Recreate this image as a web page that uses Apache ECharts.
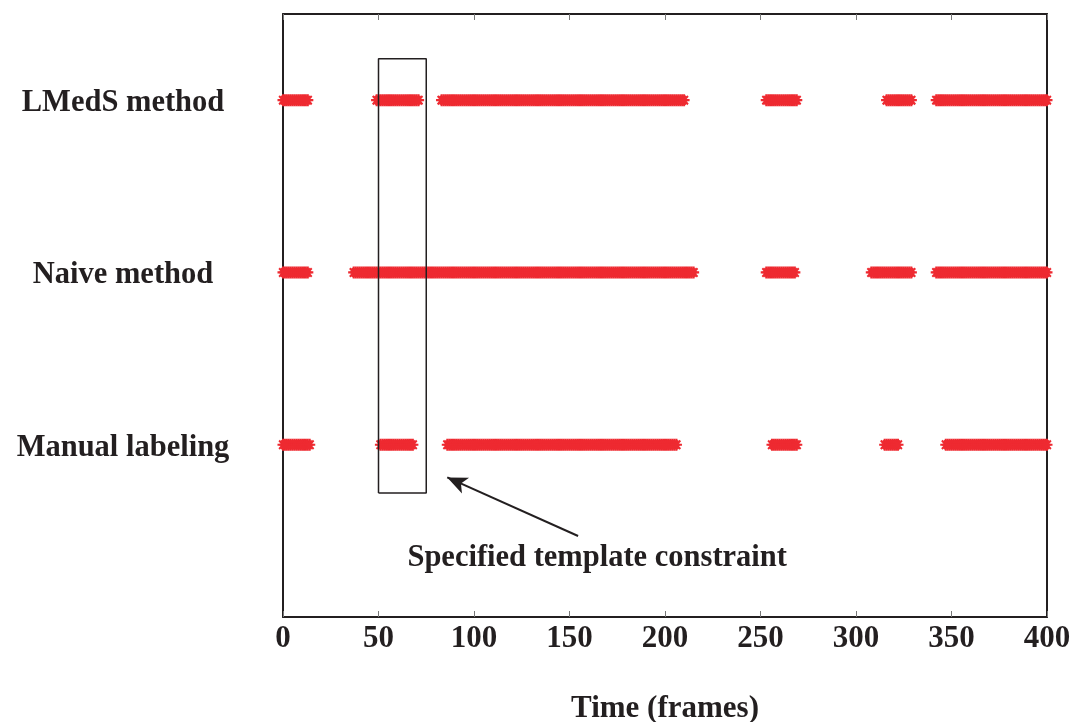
<!DOCTYPE html>
<html>
<head>
<meta charset="utf-8">
<title>Detected frames by method</title>
<script src="https://cdn.jsdelivr.net/npm/echarts@6/dist/echarts.min.js"></script>
<style>
  html, body { margin: 0; padding: 0; background: #fff; }
  #chart { width: 1072px; height: 722px; }
</style>
</head>
<body>
<div id="chart"></div>
<script>
// Row labels (bottom to top) and their row positions on the y axis
const methodNames = ['Manual labeling', 'Naive method', 'LMedS method'];
const methodRows = [1, 2, 3];

// Detected frame ranges [first, last] for each method
const manualSegments = [[0, 14], [51, 68], [86, 206], [256, 269], [315, 322], [347, 400]];
const naiveSegments = [[0, 13], [37, 215], [253, 268], [308, 329], [342, 400]];
const lmedsSegments = [[0, 13], [49, 71], [83, 210], [253, 269], [316, 329], [342, 400]];

// Template constraint box (frames x row extent) and its annotation
const boxFrames = [50, 75];
const boxRows = [0.72, 3.24];
const noteText = 'Specified template constraint';
const notePos = [164.5, 0.34];
const arrowTail = [154.5, 0.47];
const arrowHead = [86, 0.81];

// X axis ticks
const xTicks = [0, 50, 100, 150, 200, 250, 300, 350, 400];

const fontFamily = '"Liberation Serif", "Times New Roman", serif';
const ink = '#231f20';
const red = '#ee2a31';

// One marker per detected frame
function framesOf(segments, row) {
  const pts = [];
  segments.forEach(([a, b]) => {
    for (let f = a; f <= b; f++) pts.push([f, row]);
  });
  return pts;
}

// Asterisk marker: horizontal, vertical and two diagonal spokes
const asterisk = 'path://M-5,-0.9L5,-0.9L5,0.9L-5,0.9Z' +
  'M-0.9,-5L0.9,-5L0.9,5L-0.9,5Z' +
  'M-2.9,-4.17L4.17,2.9L2.9,4.17L-4.17,-2.9Z' +
  'M4.17,-2.9L-2.9,4.17L-4.17,2.9L2.9,-4.17Z';

function frameSeries(segments, row) {
  return {
    type: 'scatter',
    clip: false,
    symbol: asterisk,
    symbolSize: [11, 12],
    itemStyle: { color: red, opacity: 1 },
    data: framesOf(segments, row),
    silent: true,
    z: 3
  };
}

const chart = echarts.init(document.getElementById('chart'), null, { renderer: 'canvas' });

const option = {
  animation: false,
  backgroundColor: '#ffffff',
  grid: { left: 283, right: 25, top: 14, bottom: 105, containLabel: false, outerBoundsMode: 'none' },
  xAxis: [
    {
      type: 'value',
      min: xTicks[0],
      max: xTicks[xTicks.length - 1],
      interval: xTicks[1] - xTicks[0],
      name: 'Time (frames)',
      nameLocation: 'middle',
      nameGap: 76,
      nameTextStyle: { fontFamily, fontWeight: 'bold', fontSize: 31, color: ink },
      axisLine: { show: true, lineStyle: { color: ink, width: 2 } },
      axisTick: { show: true, inside: true, length: 6, lineStyle: { color: '#777', width: 1 } },
      axisLabel: { margin: 6, fontFamily, fontWeight: 'bold', fontSize: 31, color: ink },
      splitLine: { show: false }
    },
    {
      type: 'value',
      position: 'top',
      min: xTicks[0],
      max: xTicks[xTicks.length - 1],
      interval: xTicks[1] - xTicks[0],
      axisLine: { show: true, onZero: false, lineStyle: { color: ink, width: 2 } },
      axisTick: { show: true, inside: true, length: 6, lineStyle: { color: '#777', width: 1 } },
      axisLabel: { show: false },
      splitLine: { show: false }
    }
  ],
  yAxis: [
    {
      type: 'value',
      min: 0,
      max: 3.5,
      interval: 1,
      axisLine: { show: true, onZero: false, lineStyle: { color: ink, width: 2 } },
      axisTick: { show: false },
      splitLine: { show: false },
      axisLabel: {
        margin: 160,
        align: 'center',
        fontFamily, fontWeight: 'bold', fontSize: 30.5, color: ink,
        rich: {
          m: {
            fontFamily, fontWeight: 'bold', fontSize: 30.5, color: ink,
            padding: [6, 0, 0, 0]
          }
        },
        formatter: v => {
          const i = methodRows.indexOf(v);
          return i >= 0 ? '{m|' + methodNames[i] + '}' : '';
        }
      }
    },
    {
      type: 'value',
      position: 'right',
      min: 0,
      max: 3.5,
      axisLine: { show: true, onZero: false, lineStyle: { color: ink, width: 2 } },
      axisTick: { show: false },
      axisLabel: { show: false },
      splitLine: { show: false }
    }
  ],
  series: [
    frameSeries(manualSegments, methodRows[0]),
    frameSeries(naiveSegments, methodRows[1]),
    frameSeries(lmedsSegments, methodRows[2]),
    {
      // template constraint box
      type: 'line',
      silent: true,
      symbol: 'none',
      clip: false,
      lineStyle: { color: ink, width: 1.5 },
      data: [
        [boxFrames[0], boxRows[0]],
        [boxFrames[1], boxRows[0]],
        [boxFrames[1], boxRows[1]],
        [boxFrames[0], boxRows[1]],
        [boxFrames[0], boxRows[0]]
      ],
      z: 4,
      markLine: {
        silent: true,
        symbol: ['none', 'arrow'],
        symbolSize: [13, 20],
        label: { show: false },
        lineStyle: { color: ink, width: 2, type: 'solid' },
        data: [[{ coord: arrowTail }, { coord: arrowHead }]]
      }
    },
    {
      // annotation text
      type: 'scatter',
      silent: true,
      symbolSize: 0,
      itemStyle: { opacity: 1 },
      data: [notePos],
      label: {
        show: true,
        position: 'inside',
        formatter: noteText,
        fontFamily, fontWeight: 'bold', fontSize: 30.5, color: ink, opacity: 1
      },
      z: 5
    }
  ]
};

chart.setOption(option);
</script>
</body>
</html>
